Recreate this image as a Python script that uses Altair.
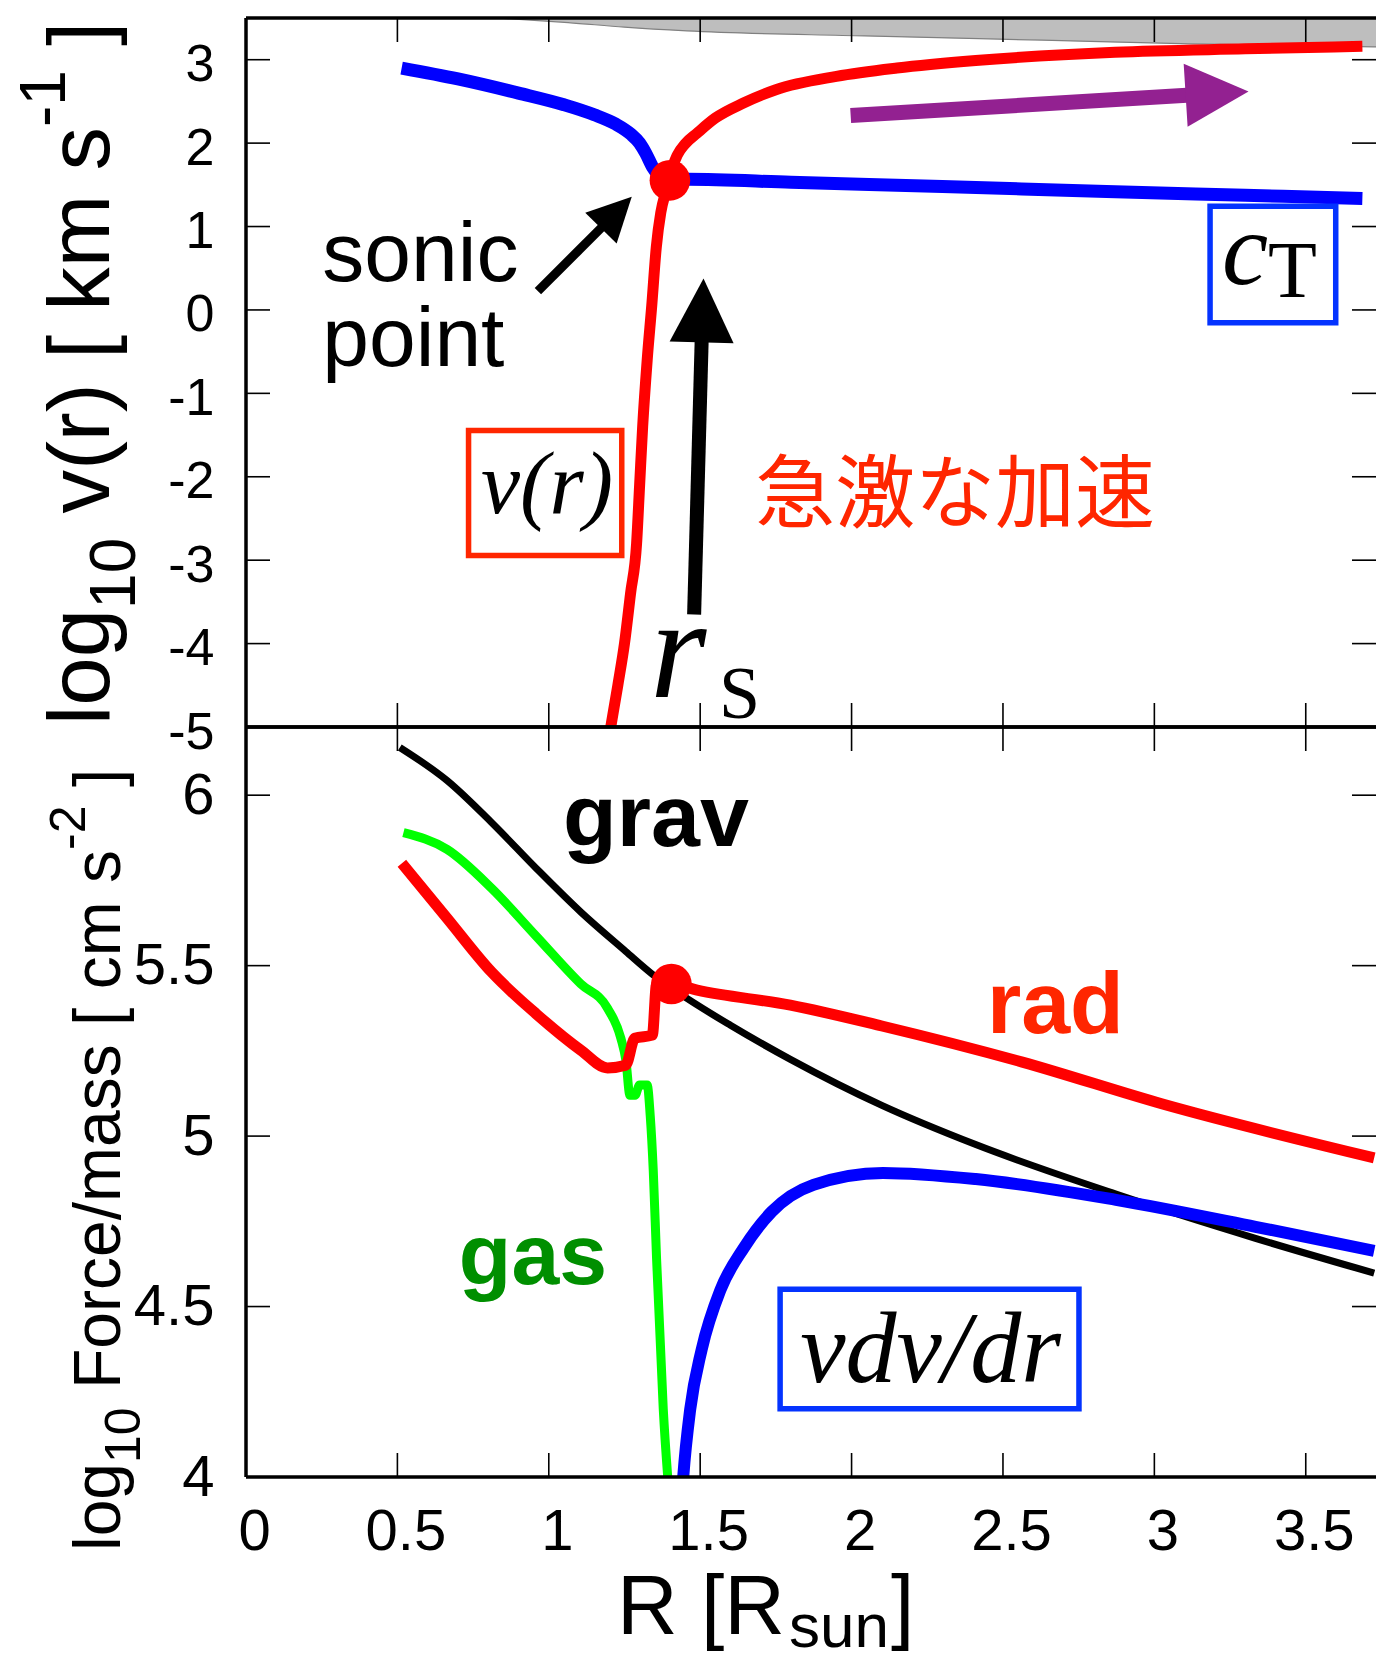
import math
import altair as alt
import pandas as pd

# ------------------------------------------------------------------
# Values
# ------------------------------------------------------------------
# shared radius axis  R [R_sun]
R_MAX = 3.732
r_tick_values = [0.5, 1.0, 1.5, 2.0, 2.5, 3.0, 3.5]
r_label_values = [0, 0.5, 1, 1.5, 2, 2.5, 3, 3.5]

# upper panel : log10 v(r) [km s^-1]
V_MIN, V_MAX = -5.0, 3.5
v_label_values = [-5, -4, -3, -2, -1, 0, 1, 2, 3]
v_tick_values = [-4, -3, -2, -1, 0, 1, 2, 3]

cT_r = [0.514, 0.70, 0.90, 1.05, 1.15, 1.22, 1.27, 1.30, 1.32, 1.345, 1.37,
        1.40, 1.459, 1.80, 2.30, 2.842, 3.30, 3.687]
cT_v = [2.90, 2.77, 2.60, 2.46, 2.34, 2.23, 2.11, 2.00, 1.88, 1.70, 1.59,
        1.56, 1.566, 1.53, 1.48, 1.42, 1.375, 1.336]

vr_r = [1.200, 1.228, 1.25, 1.27, 1.29, 1.30, 1.31, 1.325, 1.34, 1.355, 1.37,
        1.385, 1.40, 1.41, 1.425, 1.45, 1.49, 1.55, 1.643, 1.75, 1.95, 2.15,
        2.41, 2.87, 3.30, 3.687]
vr_v = [-5.1, -4.5, -4.0, -3.4, -2.8, -2.1, -1.4, -0.6, 0.05, 0.75, 1.17,
        1.40, 1.56, 1.72, 1.86, 1.99, 2.12, 2.30, 2.48, 2.64, 2.80, 2.90,
        2.99, 3.09, 3.13, 3.16]

shade_r = [0.83, 1.064, 1.25, 1.456, 2.043, 2.63, 3.12, 3.74]
shade_v = [3.5, 3.445, 3.39, 3.345, 3.285, 3.234, 3.19, 3.153]

sonic_r, sonic_v = 1.40, 1.554

# arrows (tail -> base of head -> tip), data units of the upper panel
arrow_tail_r = [0.964, 1.480, 1.997]
arrow_tail_v = [0.225, -3.651, 2.330]
arrow_base_r = [1.178, 1.505, 3.107]
arrow_base_v = [1.002, -0.353, 2.574]
arrow_tip_r = [1.274, 1.511, 3.311]
arrow_tip_v = [1.357, 0.378, 2.620]

# lower panel : log10 Force/mass [cm s^-2]
F_MIN, F_MAX = 4.0, 6.2
f_label_values = [4, 4.5, 5, 5.5, 6]
f_tick_values = [4.5, 5, 5.5, 6]

grav_r = [0.508, 0.664, 0.811, 0.959, 1.106, 1.254, 1.342, 1.429, 1.60, 1.798,
          2.10, 2.41, 2.873, 3.334, 3.726]
grav_f = [6.14, 6.043, 5.92, 5.785, 5.657, 5.542, 5.475, 5.42, 5.325, 5.225,
          5.09, 4.975, 4.83, 4.70, 4.598]

gas_r = [0.52, 0.664, 0.811, 0.959, 1.106, 1.194, 1.238, 1.255, 1.268, 1.285,
         1.30, 1.325, 1.335, 1.345, 1.356, 1.378, 1.397]
gas_f = [5.89, 5.841, 5.727, 5.586, 5.446, 5.375, 5.287, 5.22, 5.12, 5.12,
         5.15, 5.15, 5.06, 4.90, 4.64, 4.20, 3.95]

rad_r = [0.515, 0.664, 0.811, 0.959, 1.106, 1.194, 1.254, 1.284, 1.342, 1.356,
         1.405, 1.49, 1.798, 2.10, 2.564, 3.027, 3.726]
rad_f = [5.80, 5.639, 5.481, 5.358, 5.252, 5.20, 5.208, 5.287, 5.296, 5.446,
         5.446, 5.428, 5.384, 5.323, 5.217, 5.094, 4.936]

acc_r = [1.44, 1.444, 1.467, 1.505, 1.567, 1.644, 1.736, 1.874, 2.104, 2.41,
         2.873, 3.334, 3.726]
acc_f = [3.95, 4.0, 4.198, 4.374, 4.549, 4.672, 4.778, 4.857, 4.892, 4.874,
         4.813, 4.734, 4.663]

sonic2_r, sonic2_f = 1.405, 5.446

# ------------------------------------------------------------------
# Layout / style
# ------------------------------------------------------------------
W, H1, H2 = 1130, 709, 750
TICK, TICK_W, FRAME_W = 24, 1.6, 3.5
SANS = "Liberation Sans"
SERIF = "Liberation Serif"
CJK = "Noto Sans CJK JP"
RED, BLUE, GREEN, BLACK = "#FF0000", "#0000FF", "#00FF00", "#000000"
ORANGE = "#FF2600"
BOXBLUE = "#0433FF"
GASGREEN = "#008F00"
PURPLE = "#932191"
GRAY, GRAYEDGE = "#BEBEBE", "#808080"
HEAD = "M0,0L1,2L-1,2Z"

xs = alt.Scale(domain=[0, R_MAX], nice=False, zero=False)
ys_top = alt.Scale(domain=[V_MIN, V_MAX], nice=False, zero=False)
ys_bot = alt.Scale(domain=[F_MIN, F_MAX], nice=False, zero=False)
ONE = pd.DataFrame({"k": [0]})


def num_axis(values, size, padding, offset):
    return alt.Axis(values=values, labelExpr="'' + datum.value",
                    labelFont=SANS, labelFontSize=size, labelColor=BLACK,
                    ticks=False, tickSize=0, domain=False, grid=False,
                    labelPadding=padding, labelOffset=offset, labelFlush=False,
                    labelOverlap=False, labelBound=False, title=None)


class Panel:
    def __init__(self, ys, xaxis, yaxis):
        self.ys, self.xaxis, self.yaxis = ys, xaxis, yaxis

    def X(self, field):
        return alt.X(field, scale=xs, axis=self.xaxis)

    def Y(self, field):
        return alt.Y(field, scale=self.ys, axis=self.yaxis)

    def XD(self, v):
        return alt.XDatum(v, scale=xs, axis=self.xaxis)

    def YD(self, v):
        return alt.YDatum(v, scale=self.ys, axis=self.yaxis)

    def series(self, rs, vs, color, width):
        df = pd.DataFrame({"r": rs, "v": vs, "i": list(range(len(rs)))})
        return alt.Chart(df).mark_line(
            color=color, strokeWidth=width, interpolate="monotone", clip=True,
            strokeJoin="round").encode(
            x=self.X("r:Q"), y=self.Y("v:Q"), order=alt.Order("i:Q"))

    def label(self, text, r, v, size, color=BLACK, font=SANS, weight="normal",
              style="normal", align="left"):
        return alt.Chart(ONE).mark_text(
            text=text, font=font, fontSize=size, fontWeight=weight, fontStyle=style,
            color=color, align=align, baseline="alphabetic").encode(
            x=self.XD(r), y=self.YD(v))

    def box(self, r1, r2, v1, v2, color):
        return alt.Chart(ONE).mark_rect(fill="transparent", stroke=color,
                                        strokeWidth=5.5).encode(
            x=self.XD(r1), x2=alt.datum(r2), y=self.YD(v1), y2=alt.datum(v2))

    def dot(self, r, v):
        return alt.Chart(ONE).mark_point(shape="circle", filled=True, size=1650,
                                         color=RED, opacity=1, strokeWidth=0).encode(
            x=self.XD(r), y=self.YD(v))

    def frame_and_ticks(self, H, yticks, y_label_values):
        dfx = pd.DataFrame({"r": r_tick_values})
        dfy = pd.DataFrame({"v": yticks})
        xt = alt.Chart(dfx).mark_rule(color=BLACK, strokeWidth=TICK_W)
        yt = alt.Chart(dfy).mark_rule(color=BLACK, strokeWidth=TICK_W)
        layers = [
            xt.encode(x=self.X("r:Q"), y=alt.value(0), y2=alt.value(TICK)),
            xt.encode(x=self.X("r:Q"), y=alt.value(H - TICK), y2=alt.value(H)),
            yt.encode(y=self.Y("v:Q"), x=alt.value(0), x2=alt.value(TICK)),
            yt.encode(y=self.Y("v:Q"), x=alt.value(W - TICK), x2=alt.value(W)),
        ]
        fr = alt.Chart(ONE).mark_rule(color=BLACK, strokeWidth=FRAME_W)
        layers += [
            fr.encode(x=alt.value(0), y=alt.value(0), y2=alt.value(H)),
            fr.encode(x=alt.value(0), x2=alt.value(W), y=alt.value(0)),
            fr.encode(x=alt.value(0), x2=alt.value(W), y=alt.value(H)),
        ]
        layers.append(
            alt.Chart(pd.DataFrame({"v": y_label_values})).mark_point(opacity=0).encode(
                y=self.Y("v:Q"), x=alt.value(0)))
        return layers


def pix_text(text, px, py, size, angle=0, font=SANS):
    kw = dict(text=text, font=font, fontSize=size, color=BLACK, align="left",
              baseline="alphabetic")
    if angle:
        kw["angle"] = angle
    return alt.Chart(ONE).mark_text(**kw).encode(x=alt.value(px), y=alt.value(py))


WIDTHS = {"l": .222, "o": .556, "g": .556, " ": .278, "v": .5, "(": .333,
          "r": .333, ")": .333, "[": .278, "]": .278, "k": .5, "m": .833,
          "s": .5, "1": .556, "0": .556, "-": .333, "F": .611, "c": .5,
          "e": .556, "/": .278, "a": .556, "2": .556}


def stacked_title(pieces, x_base, y_start):
    """Rotated (reading upward) title built from pieces with sub/superscripts."""
    out = []
    y = y_start
    for text, size, shift in pieces:
        lead = len(text) - len(text.lstrip(" "))
        y -= lead * WIDTHS[" "] * size
        body = text.lstrip(" ")
        out.append(pix_text(body, x_base + shift, round(y, 1), size, angle=270))
        y -= sum(WIDTHS[c] for c in body) * size
    return out


# ------------------------------------------------------------------
# Upper panel
# ------------------------------------------------------------------
P1 = Panel(ys_top, None, num_axis(v_label_values, 52, 32, 5))

shade_df = pd.DataFrame({"r": shade_r, "v": shade_v, "top": [V_MAX] * len(shade_r)})
shade = alt.Chart(shade_df).mark_area(
    color=GRAY, opacity=1, interpolate="monotone", clip=True,
    line={"color": GRAYEDGE, "strokeWidth": 1.2}).encode(
    x=P1.X("r:Q"), y=P1.Y("v:Q"), y2="top:Q")

arrow_colors = [BLACK, BLACK, PURPLE]
arrow_widths = [9, 14, 15]
arrow_heads = [1936, 4096, 3969]
px_r = W / R_MAX
px_v = H1 / (V_MAX - V_MIN)
arrows = []
for i in range(3):
    seg = pd.DataFrame({"r": [arrow_tail_r[i]], "v": [arrow_tail_v[i]],
                        "r2": [arrow_base_r[i]], "v2": [arrow_base_v[i]]})
    arrows.append(alt.Chart(seg).mark_rule(color=arrow_colors[i],
                                           strokeWidth=arrow_widths[i]).encode(
        x=P1.X("r:Q"), x2="r2:Q", y=P1.Y("v:Q"), y2="v2:Q"))
    ang = math.degrees(math.atan2((arrow_tip_r[i] - arrow_base_r[i]) * px_r,
                                  (arrow_tip_v[i] - arrow_base_v[i]) * px_v)) % 360
    arrows.append(alt.Chart(ONE).mark_point(
        shape=HEAD, filled=True, size=arrow_heads[i], angle=round(ang, 2),
        color=arrow_colors[i], opacity=1, strokeWidth=0).encode(
        x=P1.XD(arrow_tip_r[i]), y=P1.YD(arrow_tip_v[i])))

top_title = stacked_title(
    [("log", 87, 0), ("10", 64, 26), (" v(r) [ km s", 87, 0), ("-1", 64, -44), (" ]", 87, 0)],
    -137, 707)

top_layers = [
    shade,
    P1.series(cT_r, cT_v, BLUE, 13),
    P1.series(vr_r, vr_v, RED, 11),
    P1.dot(sonic_r, sonic_v),
] + arrows + [
    P1.label("sonic", 0.252, 0.348, 84),
    P1.label("point", 0.252, -0.671, 84),
    P1.label("急激な加速", 1.681, -2.53, 80, color=ORANGE, font=CJK),
    P1.box(0.735, 1.241, -1.445, -2.944, ORANGE),
    P1.label("v(r)", 0.994, -2.434, 88, font=SERIF, style="italic", align="center"),
    P1.box(3.184, 3.599, 1.243, -0.155, BOXBLUE),
    P1.label("c", 3.223, 0.312, 104, font=SERIF, style="italic"),
    P1.label("T", 3.375, 0.156, 80, font=SERIF),
    P1.label("r", 1.334, -4.64, 145, font=SERIF, style="italic"),
    P1.label("S", 1.562, -4.892, 74, font=SERIF),
] + P1.frame_and_ticks(H1, v_tick_values, v_label_values) + top_title

top = alt.layer(*top_layers).properties(width=W, height=H1)

# ------------------------------------------------------------------
# Lower panel
# ------------------------------------------------------------------
P2 = Panel(ys_bot, num_axis(r_label_values, 58, 26, 8), num_axis(f_label_values, 58, 32, 1))

x_carrier = alt.Chart(pd.DataFrame({"r": r_label_values})).mark_point(opacity=0).encode(
    x=P2.X("r:Q"), y=alt.value(H2))

bottom_title = stacked_title(
    [("log", 66, 0), ("10", 50, 20), (" Force/mass [ cm s", 66, 0), ("-2", 50, -35), (" ]", 66, 0)],
    -126, 824)

x_title = [
    pix_text("R [R", 371, 907, 84),
    pix_text("sun", 543, 920, 62),
    pix_text("]", 645, 907, 84),
]

bottom_layers = [
    P2.series(grav_r, grav_f, BLACK, 7),
    P2.series(gas_r, gas_f, GREEN, 9),
    P2.series(rad_r, rad_f, RED, 11),
    P2.series(acc_r, acc_f, BLUE, 12),
    P2.dot(sonic2_r, sonic2_f),
    P2.label("grav", 1.047, 5.851, 88, weight="bold"),
    P2.label("rad", 2.447, 5.302, 88, color=ORANGE, weight="bold"),
    P2.label("gas", 0.703, 4.566, 86, color=GASGREEN, weight="bold"),
    P2.box(1.764, 2.751, 4.551, 4.20, BOXBLUE),
    P2.label("vdv/dr", 2.261, 4.279, 102, font=SERIF, style="italic", align="center"),
    x_carrier,
] + P2.frame_and_ticks(H2, f_tick_values, f_label_values) + bottom_title + x_title

bottom = alt.layer(*bottom_layers).properties(width=W, height=H2)

chart = alt.vconcat(top, bottom, spacing=0, bounds="flush").properties(
    padding={"left": 13, "top": 15, "right": 0, "bottom": -1},
    background="white",
).configure_view(stroke="transparent")

chart.save("out.html", embed_options={"renderer": "svg", "actions": False})
